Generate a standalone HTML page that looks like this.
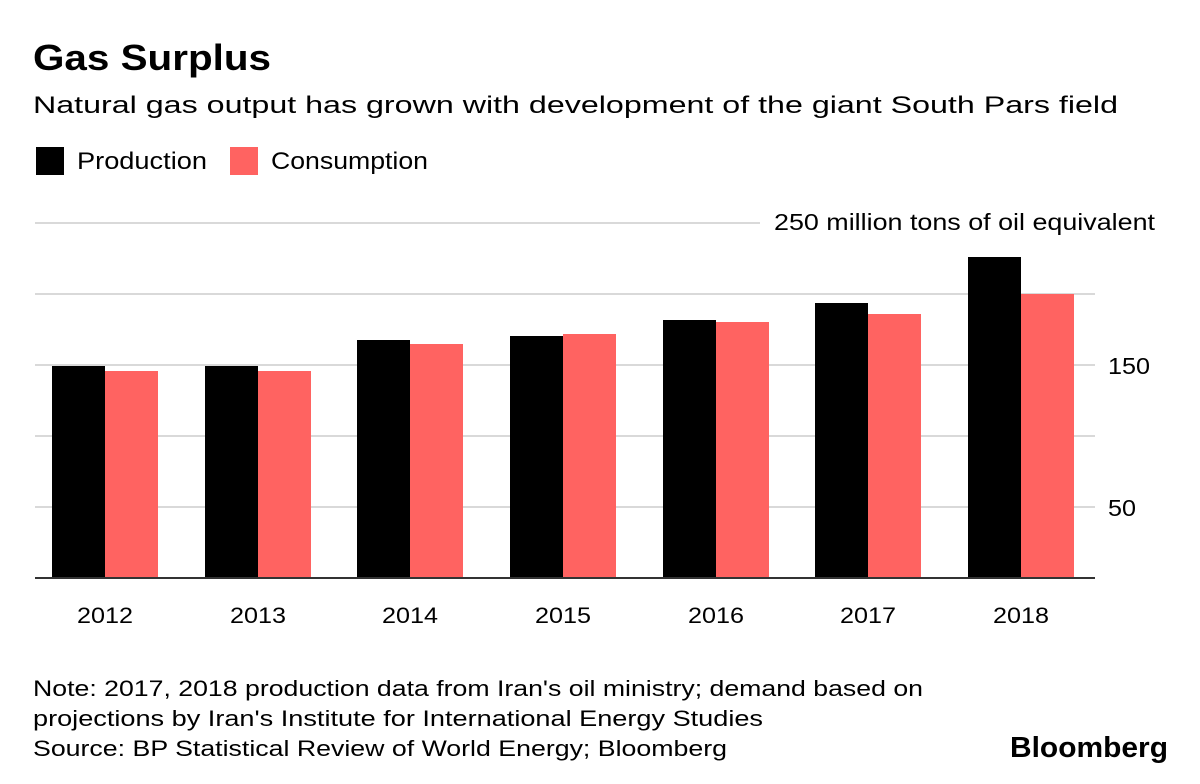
<!DOCTYPE html>
<html><head><meta charset="utf-8"><style>
body{margin:0;background:#fff;width:1200px;height:779px;overflow:hidden;font-family:"Liberation Sans",Arial,sans-serif;}
</style></head><body>
<svg width="1200" height="779" xmlns="http://www.w3.org/2000/svg" font-family="Liberation Sans, Arial, sans-serif">
<text x="33" y="70" font-size="36" font-weight="bold" fill="#000" textLength="238" lengthAdjust="spacingAndGlyphs">Gas Surplus</text>
<text x="33" y="113" font-size="24" fill="#000" textLength="1085" lengthAdjust="spacingAndGlyphs">Natural gas output has grown with development of the giant South Pars field</text>
<rect x="36" y="147" width="28" height="28" fill="#000"/>
<text x="77" y="169" font-size="24" fill="#000" textLength="130" lengthAdjust="spacingAndGlyphs">Production</text>
<rect x="230" y="147" width="28" height="28" fill="#ff6361"/>
<text x="271" y="169" font-size="24" fill="#000" textLength="157" lengthAdjust="spacingAndGlyphs">Consumption</text>
<g stroke="#d9d9d9" stroke-width="2">
<line x1="35" y1="223" x2="760" y2="223"/>
<line x1="35" y1="294" x2="1095" y2="294"/>
<line x1="35" y1="365" x2="1095" y2="365"/>
<line x1="35" y1="436" x2="1095" y2="436"/>
<line x1="35" y1="507" x2="1095" y2="507"/>
</g>
<text x="774" y="230" font-size="23" fill="#000" textLength="381" lengthAdjust="spacingAndGlyphs">250 million tons of oil equivalent</text>
<text x="1108" y="374" font-size="23" fill="#000" textLength="42" lengthAdjust="spacingAndGlyphs">150</text>
<text x="1108" y="516" font-size="23" fill="#000" textLength="28" lengthAdjust="spacingAndGlyphs">50</text>
<g>
<rect x="52" y="366" width="53" height="212" fill="#000"/><rect x="105" y="371" width="53" height="207" fill="#ff6361"/>
<rect x="205" y="366" width="53" height="212" fill="#000"/><rect x="258" y="371" width="53" height="207" fill="#ff6361"/>
<rect x="357" y="340" width="53" height="238" fill="#000"/><rect x="410" y="344" width="53" height="234" fill="#ff6361"/>
<rect x="510" y="336" width="53" height="242" fill="#000"/><rect x="563" y="334" width="53" height="244" fill="#ff6361"/>
<rect x="663" y="320" width="53" height="258" fill="#000"/><rect x="716" y="322" width="53" height="256" fill="#ff6361"/>
<rect x="815" y="303" width="53" height="275" fill="#000"/><rect x="868" y="314" width="53" height="264" fill="#ff6361"/>
<rect x="968" y="257" width="53" height="321" fill="#000"/><rect x="1021" y="294" width="53" height="284" fill="#ff6361"/>
</g>
<line x1="35" y1="578" x2="1095" y2="578" stroke="#333" stroke-width="2"/>
<g font-size="22" fill="#000">
<text x="77" y="623" textLength="56" lengthAdjust="spacingAndGlyphs">2012</text>
<text x="230" y="623" textLength="56" lengthAdjust="spacingAndGlyphs">2013</text>
<text x="382" y="623" textLength="56" lengthAdjust="spacingAndGlyphs">2014</text>
<text x="535" y="623" textLength="56" lengthAdjust="spacingAndGlyphs">2015</text>
<text x="688" y="623" textLength="56" lengthAdjust="spacingAndGlyphs">2016</text>
<text x="840" y="623" textLength="56" lengthAdjust="spacingAndGlyphs">2017</text>
<text x="993" y="623" textLength="56" lengthAdjust="spacingAndGlyphs">2018</text>
</g>
<g font-size="22" fill="#000">
<text x="33" y="696" textLength="890" lengthAdjust="spacingAndGlyphs">Note: 2017, 2018 production data from Iran's oil ministry; demand based on</text>
<text x="33" y="726" textLength="730" lengthAdjust="spacingAndGlyphs">projections by Iran's Institute for International Energy Studies</text>
<text x="33" y="756" textLength="694" lengthAdjust="spacingAndGlyphs">Source: BP Statistical Review of World Energy; Bloomberg</text>
</g>
<text x="1010" y="757" font-size="29" font-weight="bold" fill="#000" textLength="158" lengthAdjust="spacingAndGlyphs">Bloomberg</text>
</svg>
</body></html>
